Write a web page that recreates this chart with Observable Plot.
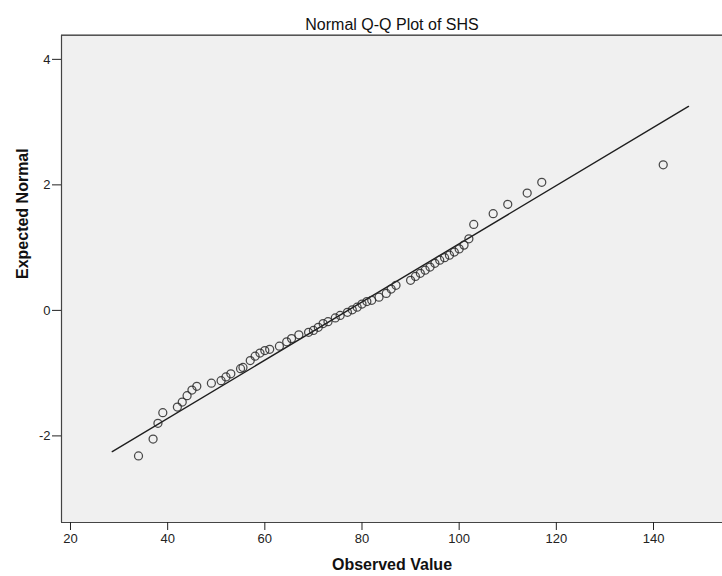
<!DOCTYPE html>
<html>
<head>
<meta charset="utf-8">
<script src="https://cdn.jsdelivr.net/npm/d3@7"></script>
<script src="https://cdn.jsdelivr.net/npm/@observablehq/plot@0.6"></script>
<style>
  html, body { margin: 0; padding: 0; background: #ffffff; }
  #chart { width: 722px; height: 576px; }
</style>
</head>
<body>
<div id="chart"></div>
<script>
const observedValue = [
  34, 37, 38, 39, 42, 43, 44, 45, 46, 49,
  51, 52, 53, 55, 55.5, 57, 58, 59, 60, 61,
  63, 64.5, 65.5, 67, 69, 70, 71, 72, 73, 74.5,
  75.5, 77, 78, 79, 80, 81, 82, 83.5, 85, 86,
  87, 90, 91, 92, 93, 94, 95, 96, 97, 98,
  99, 100, 101, 102, 103, 107, 110, 114, 117, 142
];
const expectedNormal = [
  -2.32, -2.05, -1.80, -1.63, -1.54, -1.46, -1.36, -1.27, -1.21, -1.16,
  -1.12, -1.06, -1.01, -0.93, -0.91, -0.80, -0.73, -0.68, -0.64, -0.62,
  -0.57, -0.50, -0.45, -0.39, -0.35, -0.32, -0.27, -0.21, -0.18, -0.12,
  -0.08, -0.03, 0.01, 0.05, 0.10, 0.14, 0.16, 0.21, 0.27, 0.34,
  0.40, 0.48, 0.54, 0.59, 0.64, 0.69, 0.75, 0.80, 0.84, 0.88,
  0.93, 0.98, 1.04, 1.14, 1.37, 1.54, 1.69, 1.87, 2.04, 2.32
];
// Reference line end points
const refLineX = [28.6, 147.2];
const refLineY = [-2.25, 3.25];

const xTicks = [20, 40, 60, 80, 100, 120, 140];
const yTicks = [-2, 0, 2, 4];
const xDomain = [18.15, 154.2];
const yDomain = [-3.38, 4.38];

const titleText = "Normal Q-Q Plot of SHS";
const xLabel = "Observed Value";
const yLabel = "Expected Normal";

const points = observedValue.map((v, i) => ({x: v, y: expectedNormal[i]}));
const refLine = refLineX.map((v, i) => ({x: v, y: refLineY[i]}));

const font = "'Liberation Sans', Arial, sans-serif";

const chart = Plot.plot({
  width: 722,
  height: 576,
  marginLeft: 61,
  marginTop: 35,
  marginRight: 0,
  marginBottom: 54,
  style: {background: "#ffffff", fontFamily: font, overflow: "visible"},
  x: {domain: xDomain},
  y: {domain: yDomain},
  marks: [
    Plot.frame({fill: "#f0f0f0", stroke: null}),
    Plot.ruleY([yDomain[1]], {stroke: "#9a9a9a", strokeWidth: 1, dy: -1}),
    Plot.ruleY([yDomain[1]], {stroke: "#555555", strokeWidth: 1.2}),
    Plot.ruleY([yDomain[0]], {stroke: "#444444", strokeWidth: 1.2}),
    Plot.ruleX([xDomain[0]], {stroke: "#444444", strokeWidth: 1.2}),
    Plot.line(refLine, {x: "x", y: "y", stroke: "#1e1e1e", strokeWidth: 1.4}),
    Plot.dot(points, {x: "x", y: "y", r: 4, fill: "none", stroke: "#2a2a2a", strokeWidth: 1.25, strokeOpacity: 0.85}),
    Plot.axisX({ticks: xTicks, tickSize: 8, tickPadding: 3, fontSize: 13, color: "#222222", label: null, tickFormat: d => String(d)}),
    Plot.axisY({ticks: yTicks, tickSize: 9, tickPadding: 2, fontSize: 13, color: "#222222", label: null, tickFormat: d => String(d)}),
    Plot.text([titleText], {frameAnchor: "top", dy: -17, fontSize: 16, fill: "#111111", text: d => d}),
    Plot.text([xLabel], {frameAnchor: "bottom", dy: 47, fontSize: 16, fontWeight: "bold", fill: "#111111", text: d => d}),
    Plot.text([yLabel], {frameAnchor: "left", dx: -39, rotate: -90, fontSize: 16, fontWeight: "bold", fill: "#111111", text: d => d})
  ]
});

document.getElementById("chart").appendChild(chart);
</script>
</body>
</html>
